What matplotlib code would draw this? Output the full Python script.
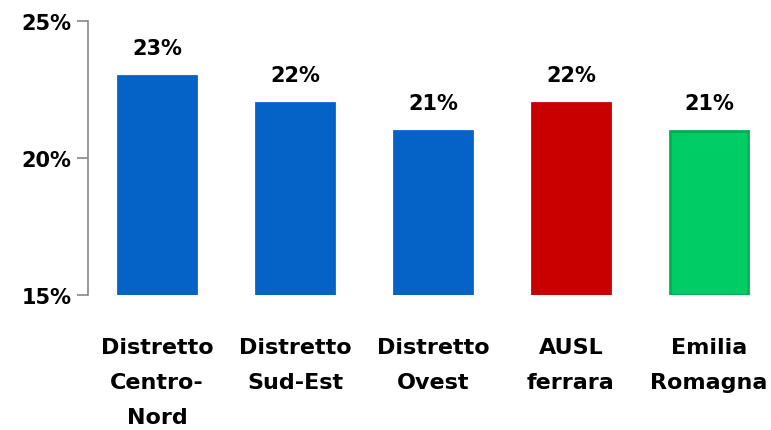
import matplotlib
matplotlib.use('Agg')
import matplotlib.pyplot as plt
from matplotlib.ticker import FuncFormatter

categories = ['Distretto\nCentro-\nNord', 'Distretto\nSud-Est', 'Distretto\nOvest',
              'AUSL\nferrara', 'Emilia\nRomagna']
values = [23, 22, 21, 22, 21]
colors = ['#0563C8', '#0563C8', '#0563C8', '#C80000', '#00CC66']
edges = ['#0563C8', '#0563C8', '#0563C8', '#C80000', '#00B050']

plt.rcParams['font.family'] = ['DejaVu Sans']

fig = plt.figure(figsize=(7.71, 4.31), dpi=100)
ax = fig.add_axes([88 / 771, (431 - 296) / 431, 1 - 88 / 771, (296 - 22) / 431])

x = list(range(len(values)))
ax.bar(x, [v - 15 for v in values], bottom=15, width=0.56,
       color=colors, edgecolor=edges, linewidth=2)

for xi, v in zip(x, values):
    ax.text(xi, v + 0.65, f'{v}%', ha='center', va='bottom',
            fontsize=15, fontweight='bold', color='black')

ax.set_ylim(15, 25)
ax.set_xlim(-0.5, 4.45)
ax.set_yticks([15, 20, 25])
ax.yaxis.set_major_formatter(FuncFormatter(lambda v, _: f'{v:.0f}%'))
ax.set_xticks(x)
ax.set_xticklabels(categories, fontsize=16, fontweight='bold', linespacing=1.95)
ax.tick_params(axis='x', length=0, pad=30)
ax.tick_params(axis='y', length=8, width=1.2, color='#888888', pad=4,
               labelsize=15)
for lab in ax.get_yticklabels():
    lab.set_fontweight('bold')

for s in ['top', 'right', 'bottom']:
    ax.spines[s].set_visible(False)
ax.spines['left'].set_color('#888888')
ax.spines['left'].set_linewidth(1.2)

fig.savefig('out.png', dpi=100)
